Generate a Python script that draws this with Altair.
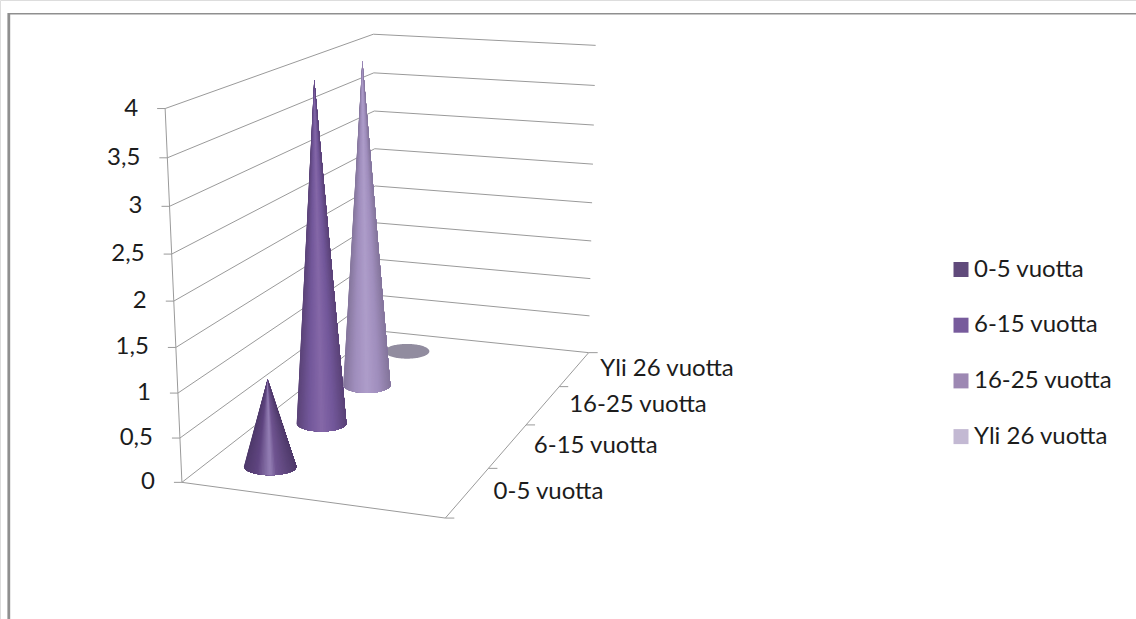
import math

import altair as alt
import numpy as np
import pandas as pd

# Chart content
SERIES = ["0-5 vuotta", "6-15 vuotta", "16-25 vuotta", "Yli 26 vuotta"]
VALUES = [1, 4, 4, 0]
VALUE_TICKS = [0, 0.5, 1, 1.5, 2, 2.5, 3, 3.5, 4]
LEGEND_COLORS = ["#604a7b", "#775b9c", "#9d88b3", "#c3b9d3"]

# Horizontal shading across each cone: (position, colour) pairs
SHADES = [
    [(0, "#4f3a6b"), (0.25, "#5f4580"), (0.5, "#9580b5"), (0.62, "#6f5490"), (1, "#4f3a6b")],
    [(0, "#5b4378"), (0.25, "#72579a"), (0.5, "#8568a8"), (0.75, "#72579a"), (1, "#5b4378")],
    [(0, "#85769c"), (0.25, "#a08ebd"), (0.5, "#ae9dca"), (0.75, "#a08ebd"), (1, "#85769c")],
]
DISC_COLOR = "#918c9f"
LINE_COLOR = "#9a9a9a"
FRAME_COLOR = "#8f8f8f"
TEXT_COLOR = "#1c1c1c"
FONT = "Lato"
FONT_SIZE = 24

# Across-the-floor position of the only populated category
CATEGORY_POS = 0.236

# Points of the box as (across, depth, value) -> page position, with a weight,
# used to solve for the camera that projects the 3D plot onto the page.
CALIBRATION = [
    ((0, 0, 0), (179, 481.7), 3),
    ((0, 0, 4), (167, 108.7), 3),
    ((0, 1, 0), (380.5, 331), 3),
    ((0, 1, 4), (370, 34), 3),
    ((1, 1, 0), (586.7, 352.7), 3),
    ((1, 1, 4), (597, 45), 3),
    ((1, 0, 0), (446, 518.3), 3),
    ((CATEGORY_POS, 0.125, 1), (269, 379.3), 1),
    ((CATEGORY_POS, 0.375, 4), (318.3, 81.7), 1),
    ((CATEGORY_POS, 0.625, 4), (364.3, 63.3), 1),
]


def solve_camera(points):
    rows, rhs = [], []
    for (s, d, v), (px, py), w in points:
        rows.append([w * c for c in (s, d, v, 1, 0, 0, 0, 0, -px * s, -px * d, -px * v)])
        rows.append([w * c for c in (0, 0, 0, 0, s, d, v, 1, -py * s, -py * d, -py * v)])
        rhs += [w * px, w * py]
    m = np.linalg.lstsq(np.array(rows, float), np.array(rhs, float), rcond=None)[0]
    return np.append(m, 1.0).reshape(3, 4)


CAMERA = solve_camera(CALIBRATION)


def project(s, d, v):
    px, py, w = CAMERA @ np.array([s, d, v, 1.0])
    return float(px / w), float(py / w)


def hex_mix(stops, u):
    for (u0, c0), (u1, c1) in zip(stops, stops[1:]):
        if u <= u1:
            t = (u - u0) / (u1 - u0)
            a = [int(c0[i:i + 2], 16) for i in (1, 3, 5)]
            b = [int(c1[i:i + 2], 16) for i in (1, 3, 5)]
            return "#%02x%02x%02x" % tuple(round(p + (q - p) * t) for p, q in zip(a, b))
    return stops[-1][1]


def vertical_span(poly, x):
    """Top and bottom of a convex polygon along the vertical line at x."""
    hits = []
    for (x0, y0), (x1, y1) in zip(poly, poly[1:] + poly[:1]):
        lo, hi = min(x0, x1), max(x0, x1)
        if lo - 1e-9 <= x <= hi + 1e-9:
            if hi - lo < 1e-9:
                hits += [y0, y1]
            else:
                hits.append(y0 + (y1 - y0) * (x - x0) / (x1 - x0))
    return min(hits), max(hits)


# Grid, axis lines and tick marks
segments = []


def seg(a, b):
    segments.append({"x": a[0], "y": a[1], "x2": b[0], "y2": b[1]})


for v in VALUE_TICKS:
    corner = project(0, 1, v)
    seg(project(0, 0, v), corner)
    seg(corner, project(1, 1, v))
    fx, fy = project(0, 0, v)
    seg((fx - 8, fy), (fx, fy))
seg(project(0, 0, 0), project(0, 0, 4))
seg(project(0, 0, 0), project(1, 0, 0))
seg(project(1, 0, 0), project(1, 1, 0))
for k in range(len(SERIES) + 1):
    tx, ty = project(1, k / len(SERIES), 0)
    seg((tx, ty), (tx + 9, ty))

# Cones are painted as overlapping sectors, left to right, each one covering the
# rest of the cone, so that the shading converges on the apex.
sectors = []
disc = []
RADIUS = 0.103
SQUASH = 0.33
N_SECTORS = 48

for k, (name, value) in reversed(list(enumerate(zip(SERIES, VALUES)))):
    d = (k + 0.5) / len(SERIES)
    cx, cy = project(CATEGORY_POS, d, 0)
    a = RADIUS * (project(1, d, 0)[0] - project(0, d, 0)[0])
    b = a * SQUASH
    if value == 0:
        for i in range(61):
            th = math.pi * i / 60
            x = cx - a * math.cos(th)
            disc.append({"x": x, "y": cy - b * math.sin(th), "y2": cy + b * math.sin(th)})
        continue
    apex = project(CATEGORY_POS, d, value)
    rim = [
        (cx - a * math.cos(math.pi * i / N_SECTORS), cy + b * math.sin(math.pi * i / N_SECTORS))
        for i in range(N_SECTORS + 1)
    ]
    for i in range(N_SECTORS):
        poly = [apex] + rim[i:]
        u = (i + 0.5) / N_SECTORS
        u = (1 - math.cos(math.pi * u)) / 2
        shade = hex_mix(SHADES[k], u)
        key = f"{k}-{N_SECTORS - i:02d}"
        for x in sorted({p[0] for p in poly}):
            top, bottom = vertical_span(poly, x)
            sectors.append({"sector": key, "shade": shade, "x": x, "y": top, "y2": bottom})

# Labels
value_labels = []
for v in VALUE_TICKS:
    fx, fy = project(0, 0, v)
    value_labels.append({"x": fx - 27, "y": fy, "label": f"{v:g}".replace(".", ",")})

depth_labels = []
for k, name in enumerate(SERIES):
    tx, ty = project(1, (k + 0.5) / len(SERIES), 0)
    depth_labels.append({"x": tx + 26, "y": ty, "label": name})

X = alt.X("x:Q", scale=alt.Scale(domain=[0, 1136], range=[0, 1136]), axis=None)
Y = alt.Y("y:Q", scale=alt.Scale(domain=[0, 619], range=[0, 619]), axis=None)

frame = (
    alt.Chart(pd.DataFrame([
        {"x": 8, "y": 13.8, "x2": 1136, "y2": 13.8, "w": 1.6},
        {"x": 8.8, "y": 13, "x2": 8.8, "y2": 619, "w": 2.8},
    ]))
    .mark_rule(color=FRAME_COLOR)
    .encode(x=X, y=Y, x2="x2:Q", y2="y2:Q", strokeWidth=alt.StrokeWidth("w:Q", scale=None))
)

grid = (
    alt.Chart(pd.DataFrame(segments))
    .mark_rule(color=LINE_COLOR, strokeWidth=1)
    .encode(x=X, y=Y, x2="x2:Q", y2="y2:Q")
)

disc_layer = (
    alt.Chart(pd.DataFrame(disc))
    .mark_area(color=DISC_COLOR)
    .encode(x=X, y=Y, y2="y2:Q")
)

cone_layer = (
    alt.Chart(pd.DataFrame(sectors))
    .mark_area()
    .encode(
        x=X,
        y=Y,
        y2="y2:Q",
        fill=alt.Fill("shade:N", scale=None),
        detail="sector:N",
    )
)


def text_layer(rows, align):
    return (
        alt.Chart(pd.DataFrame(rows))
        .mark_text(align=align, baseline="middle", font=FONT, fontSize=FONT_SIZE, color=TEXT_COLOR)
        .encode(x=X, y=Y, text="label:N")
    )


legend_layer = (
    alt.Chart(pd.DataFrame({"series": SERIES, "x": [0] * 4, "y": [0] * 4}))
    .mark_square(size=0, opacity=1)
    .encode(
        x=X,
        y=Y,
        color=alt.Color(
            "series:N",
            scale=alt.Scale(domain=SERIES, range=LEGEND_COLORS),
            legend=alt.Legend(
                title=None,
                orient="none",
                legendX=949,
                legendY=257.5,
                symbolType="square",
                symbolSize=225,
                symbolStrokeWidth=0,
                symbolOpacity=1,
                rowPadding=31.7,
                labelFont=FONT,
                labelFontSize=FONT_SIZE,
                labelColor=TEXT_COLOR,
                labelOffset=1,
                labelLimit=300,
                padding=0,
            ),
        ),
    )
)

chart = (
    alt.layer(
        frame,
        grid,
        disc_layer,
        cone_layer,
        text_layer(value_labels, "right"),
        text_layer(depth_labels, "left"),
        legend_layer,
    )
    .properties(width=1136, height=619, padding=0, autosize=alt.AutoSizeParams(type="none"))
    .configure_view(stroke=None)
    .configure(background="#ffffff")
)

chart.save("out.html", embed_options={"renderer": "svg", "actions": False})
